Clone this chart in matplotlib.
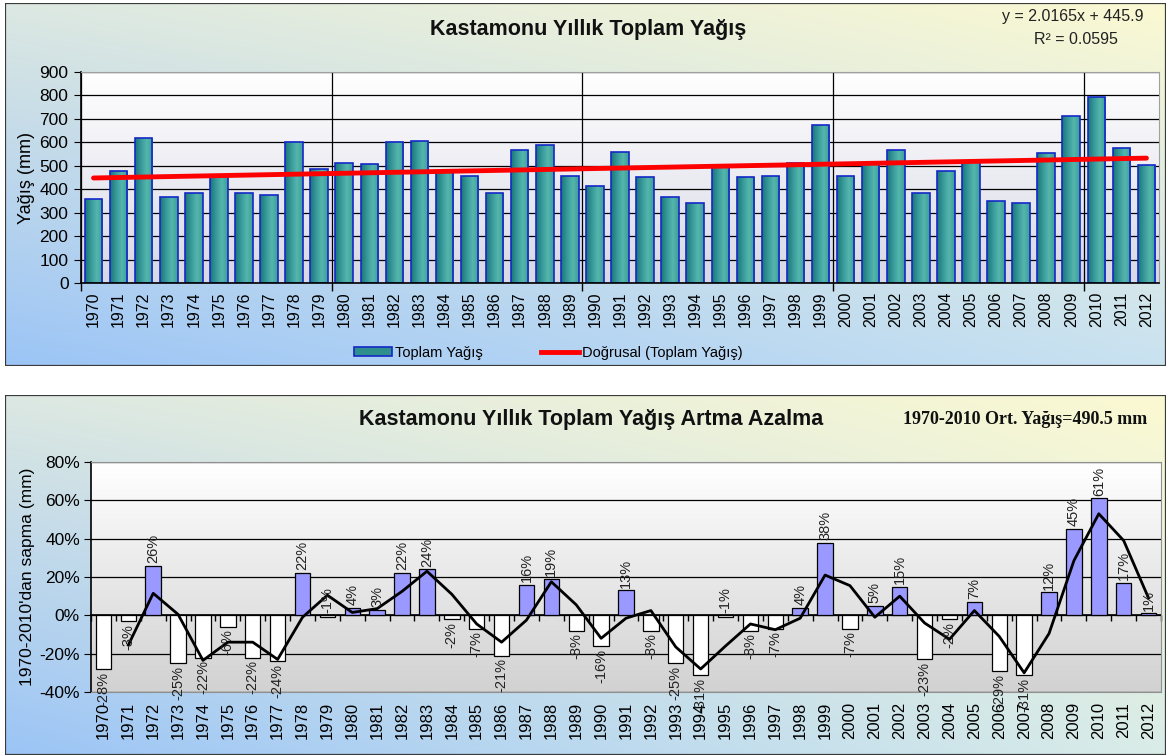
import numpy as np
import pandas as pd
import matplotlib
matplotlib.use("Agg")
import matplotlib.pyplot as plt
from matplotlib.colors import LinearSegmentedColormap, to_rgb
from matplotlib.patches import Rectangle
from matplotlib.lines import Line2D

plt.rcParams['font.family'] = ['Liberation Sans', 'DejaVu Sans']

### Veriler
yillar = list(range(1970, 2013))
toplam_yagis = [360, 478, 620, 367, 385, 460, 385, 375, 601, 486,
                513, 509, 601, 607, 475, 456, 385, 567, 587, 456,
                414, 557, 451, 366, 342, 502, 451, 456, 510, 676,
                456, 510, 567, 383, 479, 516, 351, 342, 553, 711,
                792, 574, 502]  # mm
sapma_yuzde = [-28, -3, 26, -25, -22, -6, -22, -24, 22, -1,
               4, 3, 22, 24, -2, -7, -21, 16, 19, -8,
               -16, 13, -8, -25, -31, -1, -8, -7, 4, 38,
               -7, 5, 15, -23, -2, 7, -29, -31, 12, 45,
               61, 17, 1]  # %
trend_egim = 2.0165
trend_sabit = 445.9
ort_yagis = 490.5

W, H = 1168, 756
fig = plt.figure(figsize=(W / 100, H / 100), dpi=100)


def px(x0, y0, x1, y1):
    return [x0 / W, 1 - y1 / H, (x1 - x0) / W, (y1 - y0) / H]


def panel(rect, tl, tr, bl, br):
    ax = fig.add_axes(px(*rect))
    tl, tr, bl, br = [np.array(to_rgb(c)) for c in (tl, tr, bl, br)]
    u = np.linspace(0, 1, 64)[None, :, None]
    v = np.linspace(0, 1, 64)[:, None, None]
    img = (tl * (1 - u) + tr * u) * (1 - v) + (bl * (1 - u) + br * u) * v
    ax.imshow(img, aspect='auto', extent=[0, 1, 0, 1], interpolation='bilinear')
    ax.add_patch(Rectangle((0, 0), 1, 1, transform=ax.transAxes, fill=False,
                           edgecolor='#3a3a3a', lw=1.6))
    ax.set_axis_off()


def plot_bg(ax, bottom_col):
    grad = np.linspace(0, 1, 64)[:, None, None]
    img = np.array(to_rgb('white')) * (1 - grad) + np.array(to_rgb(bottom_col)) * grad
    ax.imshow(img, aspect='auto', extent=[0, 1, 0, 1], transform=ax.transAxes,
              zorder=0, interpolation='bilinear')
    ax.patch.set_visible(False)


panel((5, 3, 1166, 366), '#dce8e2', '#fbf9d2', '#9cc5f6', '#c9e2f1')
panel((5, 395, 1166, 755), '#dce8e2', '#fbf9d2', '#9cc5f6', '#d9ece8')

x = np.arange(len(yillar))

### Üst grafik: yıllık toplam yağış
ax1 = fig.add_axes(px(81, 72, 1159, 283))
plot_bg(ax1, '#d8d8e6')
ax1.set_axisbelow(True)
teal = LinearSegmentedColormap.from_list('teal', ['#1c7676', '#37999a', '#55b6ad', '#3e9f99'])
bars = ax1.bar(x, toplam_yagis, width=0.7, facecolor='none', edgecolor='#1428c8', lw=1.2, zorder=2)
grad = np.linspace(0, 1, 32)[None, :]
for b in bars:
    bx, by = b.get_xy()
    im = ax1.imshow(grad, extent=[bx, bx + b.get_width(), by, by + b.get_height()],
                    aspect='auto', cmap=teal, zorder=1.8)
    im.set_clip_path(b)
trend = trend_egim * (x + 1) + trend_sabit
ax1.plot(x, trend, color='#ff0000', lw=3.5, zorder=3, solid_capstyle='round')
ax1.set_xlim(-0.5, len(x) - 0.5)
ax1.set_ylim(0, 900)
ax1.set_yticks(range(0, 901, 100))
ax1.yaxis.grid(True, color='black', lw=0.9)
ax1.set_xticks([-0.5, 9.5, 19.5, 29.5, 39.5])
ax1.set_xticklabels([])
ax1.xaxis.grid(True, color='black', lw=0.9)
ax1.tick_params(axis='x', which='major', length=6, width=1)
ax1.set_xticks(x, minor=True)
ax1.set_xticklabels([str(y) for y in yillar], minor=True, rotation=90, fontsize=11.5)
ax1.tick_params(axis='x', which='minor', length=0, pad=6)
ax1.tick_params(axis='y', labelsize=12.5, length=5, pad=4)
ax1.set_ylabel('Yağış (mm)', fontsize=13, labelpad=3)
for s in ('top', 'right'):
    ax1.spines[s].set_color('#a0a0a0')
for s in ('left', 'bottom'):
    ax1.spines[s].set_color('black')
    ax1.spines[s].set_linewidth(1.2)

h_bar = Rectangle((0, 0), 1, 1, facecolor='#2f8f8c', edgecolor='#1428c8', lw=1.2)
h_line = Line2D([], [], color='#ff0000', lw=3.5)
fig.legend([h_bar, h_line], ['Toplam Yağış', 'Doğrusal (Toplam Yağış)'],
           loc='center', bbox_to_anchor=(548 / W, 1 - 353 / H), ncol=2, frameon=False,
           fontsize=10.5, handlelength=2.6, handleheight=0.6, handletextpad=0.2,
           columnspacing=4.0)

fig.text(588 / W, 1 - 29 / H, 'Kastamonu Yıllık Toplam Yağış', ha='center', va='center',
         fontsize=15.5, fontweight='bold', color='#111111')
fig.text(1073 / W, 1 - 16 / H, 'y = 2.0165x + 445.9', ha='center', va='center',
         fontsize=11.5, color='#222222')
fig.text(1076 / W, 1 - 39 / H, 'R² = 0.0595', ha='center', va='center',
         fontsize=11.5, color='#222222')

### Alt grafik: ortalamadan sapma
ax2 = fig.add_axes(px(91, 462, 1161, 692))
plot_bg(ax2, '#d2d2d2')
ax2.set_axisbelow(True)
renkler = ['#9999ff' if v > 0 else 'white' for v in sapma_yuzde]
ax2.bar(x, sapma_yuzde, width=0.62, color=renkler, edgecolor='black', lw=0.9, zorder=2)
hareketli_ort = pd.Series(sapma_yuzde, dtype=float).rolling(2).mean()
ax2.plot(x, hareketli_ort, color='black', lw=2, zorder=3)
for xi, v in zip(x, sapma_yuzde):
    if v > -1.5:
        ax2.annotate(f'{v}%', (xi, max(v, 0)), xytext=(0, 2), textcoords='offset points',
                     rotation=90, ha='center', va='bottom', fontsize=10.5, color='#222222', zorder=4)
    else:
        ax2.annotate(f'{v}%', (xi, v), xytext=(0, -2), textcoords='offset points',
                     rotation=90, ha='center', va='top', fontsize=10.5, color='#222222', zorder=4)
ax2.set_xlim(-0.5, len(x) - 0.5)
ax2.set_ylim(-40, 80)
ax2.set_yticks(range(-40, 81, 20))
ax2.set_yticklabels([f'{t}%' for t in range(-40, 81, 20)])
ax2.yaxis.grid(True, color='black', lw=0.9)
ax2.set_xticks(x)
ax2.set_xticklabels([str(y) for y in yillar], rotation=90, fontsize=12)
ax2.tick_params(axis='x', length=0, pad=7)
ax2.tick_params(axis='y', labelsize=12.5, length=5, pad=3)
ax2.set_ylabel("1970-2010'dan sapma (mm)", fontsize=12.5, labelpad=3)
sec = ax2.secondary_xaxis(40 / 120)
sec.set_xticks(np.arange(-0.5, len(x), 1))
sec.set_xticklabels([])
sec.tick_params(axis='x', direction='out', length=4, width=1)
sec.spines['bottom'].set_color('black')
sec.spines['bottom'].set_linewidth(1.2)
for s in ('top', 'right', 'bottom'):
    ax2.spines[s].set_color('#909090')
ax2.spines['left'].set_color('black')
ax2.spines['left'].set_linewidth(1.2)

fig.text(591 / W, 1 - 420 / H, 'Kastamonu Yıllık Toplam Yağış Artma Azalma', ha='center',
         va='center', fontsize=15.5, fontweight='bold', color='#111111')
fig.text(1025 / W, 1 - 420 / H, f'1970-2010 Ort. Yağış={ort_yagis} mm', ha='center',
         va='center', fontsize=13, fontweight='bold', family='Liberation Serif', color='#111111')

fig.savefig('out.png', dpi=100)
